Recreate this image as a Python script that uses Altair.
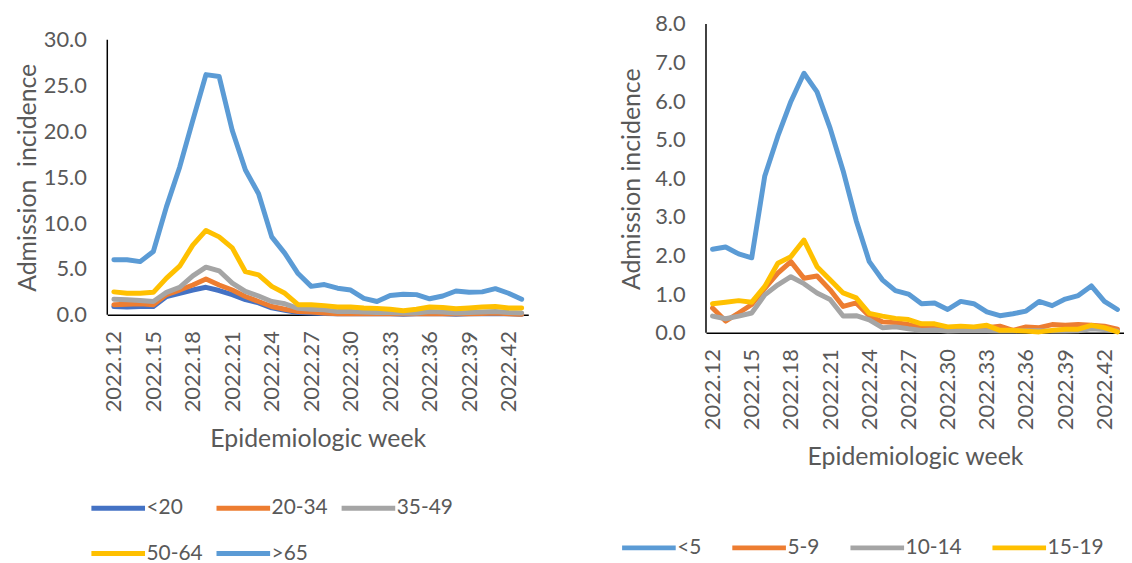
import altair as alt
import pandas as pd

weeks = list(range(12, 44))
tick_weeks = list(range(12, 43, 3))

adult_groups = ["<20", "20-34", "35-49", "50-64", ">65"]
adult_colors = ["#4472C4", "#ED7D31", "#A5A5A5", "#FFC000", "#5B9BD5"]
adult_lt20 = [0.9, 0.85, 0.9, 0.9, 2.0, 2.35, 2.7, 3.0, 2.65, 2.2, 1.65, 1.3, 0.75, 0.5, 0.25, 0.2,
              0.15, 0.1, 0.1, 0.1, 0.1, 0.1, 0.05, 0.1, 0.1, 0.1, 0.05, 0.1, 0.1, 0.1, 0.1, 0.05]
adult_20_34 = [1.1, 1.15, 1.2, 1.1, 2.2, 2.7, 3.25, 3.9, 3.25, 2.7, 2.0, 1.45, 0.9, 0.6, 0.35, 0.3,
               0.2, 0.1, 0.1, 0.1, 0.1, 0.15, 0.1, 0.1, 0.15, 0.1, 0.1, 0.1, 0.15, 0.2, 0.1, 0.05]
adult_35_49 = [1.7, 1.65, 1.55, 1.45, 2.45, 3.0, 4.25, 5.2, 4.8, 3.45, 2.55, 2.05, 1.45, 1.2, 0.7, 0.6,
               0.55, 0.35, 0.35, 0.3, 0.25, 0.25, 0.2, 0.2, 0.35, 0.3, 0.2, 0.25, 0.3, 0.35, 0.25, 0.2]
adult_50_64 = [2.5, 2.35, 2.35, 2.45, 4.0, 5.3, 7.6, 9.2, 8.5, 7.3, 4.7, 4.35, 3.1, 2.35, 1.1, 1.1,
               1.0, 0.85, 0.85, 0.75, 0.7, 0.6, 0.45, 0.6, 0.85, 0.8, 0.65, 0.75, 0.85, 0.9, 0.75, 0.75]
adult_gt65 = [6.0, 6.0, 5.8, 6.9, 11.8, 16.1, 21.2, 26.2, 26.0, 20.1, 15.8, 13.2, 8.5, 6.7, 4.5, 3.1,
              3.3, 2.9, 2.7, 1.8, 1.45, 2.1, 2.25, 2.2, 1.75, 2.05, 2.6, 2.45, 2.5, 2.85, 2.35, 1.7]

child_groups = ["<5", "5-9", "10-14", "15-19"]
child_colors = ["#5B9BD5", "#ED7D31", "#A5A5A5", "#FFC000"]
child_lt5 = [2.16, 2.22, 2.04, 1.94, 4.06, 5.09, 5.99, 6.72, 6.24, 5.3, 4.19, 2.9, 1.84, 1.37, 1.09, 1.0,
             0.75, 0.77, 0.6, 0.81, 0.75, 0.54, 0.44, 0.49, 0.56, 0.81, 0.7, 0.87, 0.96, 1.21, 0.81, 0.6]
child_5_9 = [0.64, 0.3, 0.51, 0.73, 1.15, 1.54, 1.84, 1.41, 1.47, 1.11, 0.68, 0.77, 0.43, 0.28, 0.26, 0.21,
             0.13, 0.13, 0.09, 0.13, 0.13, 0.13, 0.17, 0.06, 0.15, 0.13, 0.21, 0.19, 0.21, 0.19, 0.17, 0.09]
child_10_14 = [0.43, 0.36, 0.43, 0.51, 0.98, 1.24, 1.45, 1.27, 1.03, 0.86, 0.43, 0.44, 0.33, 0.13, 0.15, 0.1,
               0.06, 0.07, 0.04, 0.05, 0.05, 0.05, 0.04, 0.04, 0.05, 0.05, 0.04, 0.04, 0.05, 0.1, 0.08, 0.04]
child_15_19 = [0.75, 0.79, 0.83, 0.79, 1.2, 1.8, 1.97, 2.4, 1.71, 1.37, 1.03, 0.9, 0.5, 0.43, 0.37, 0.34,
               0.23, 0.23, 0.15, 0.17, 0.15, 0.19, 0.06, 0.06, 0.04, 0.02, 0.06, 0.09, 0.09, 0.19, 0.13, 0.02]

FONT = "Lato"
GREY = "#595959"


def long_df(groups, series):
    rows = []
    for g, vals in zip(groups, series):
        for w, v in zip(weeks, vals):
            rows.append({"week": w, "value": v, "group": g})
    return pd.DataFrame(rows)


def panel(df, groups, colors, width, height, ymax_domain, yvals, ytitle, ytitle_x, ytitle_y,
          legend, axis_top_px):
    x = alt.X("week:Q",
              scale=alt.Scale(domain=[11.5, 43.5], nice=False, zero=False),
              axis=alt.Axis(values=tick_weeks, labelExpr="'2022.' + datum.value", labelAngle=270,
                            ticks=False, grid=False, domainColor="black", domainWidth=1.5,
                            labelFont=FONT, labelFontSize=22, labelColor=GREY, labelPadding=16,
                            title="Epidemiologic week", titleFont=FONT, titleFontSize=25,
                            titleFontWeight="normal", titleColor=GREY, titleX=width / 2,
                            titleY=125, titleAlign="center", titleBaseline="middle"))
    y = alt.Y("value:Q",
              scale=alt.Scale(domain=[0, ymax_domain], nice=False),
              axis=alt.Axis(values=yvals, format=".1f", ticks=False, grid=False, domain=False,
                            labelFont=FONT, labelFontSize=22, labelColor=GREY, labelPadding=21,
                            title=ytitle, titleFont=FONT, titleFontSize=25, titleFontWeight="normal",
                            titleColor=GREY, titleAngle=270, titleX=ytitle_x, titleY=ytitle_y,
                            titleAlign="center", titleBaseline="middle"))
    color = alt.Color("group:N", scale=alt.Scale(domain=groups, range=colors), legend=legend)
    layers = []
    for g in groups:
        layers.append(
            alt.Chart(df).transform_filter(alt.datum.group == g)
            .mark_line(strokeWidth=5, strokeJoin="round", strokeCap="round")
            .encode(x=x, y=y, color=color)
        )
    rule = alt.Chart(pd.DataFrame({"a": [0]})).mark_rule(color="black", strokeWidth=1.5).encode(
        x=alt.value(0), y=alt.value(axis_top_px), y2=alt.value(height))
    return alt.layer(*layers, rule).properties(width=width, height=height)


def make_legend(x, y, columns, colpad):
    return alt.Legend(title=None, orient="none", legendX=x, legendY=y, direction="horizontal",
                      columns=columns, symbolType="M-1,0H17", symbolSize=36, symbolStrokeWidth=5,
                      labelFont=FONT, labelFontSize=21, labelColor=GREY, labelOffset=42,
                      columnPadding=colpad, rowPadding=24, padding=0, gridAlign="each")


left_df = long_df(adult_groups, [adult_lt20, adult_20_34, adult_35_49, adult_50_64, adult_gt65])
right_df = long_df(child_groups, [child_lt5, child_5_9, child_10_14, child_15_19])

left = panel(left_df, adult_groups, adult_colors, 424, 293, 30 * 293 / 277, [0, 5, 10, 15, 20, 25, 30],
             "Admission\u00a0 incidence", -80, 154.5,
             make_legend(-23.5, 477, 3, 3), 16)
right = panel(right_df, child_groups, child_colors, 421, 311, 8, [0, 1, 2, 3, 4, 5, 6, 7, 8],
              "Admission incidence", -75, 156,
              make_legend(-92, 517, 4, 20), 0)

chart = alt.hconcat(left, right, spacing=179, bounds="flush").resolve_scale(
    color="independent", x="independent", y="independent"
).properties(
    padding={"left": 8, "top": 3, "right": 0, "bottom": 0}
).configure_view(stroke=None)

chart.save("out.html", embed_options={"renderer": "svg", "actions": False})
